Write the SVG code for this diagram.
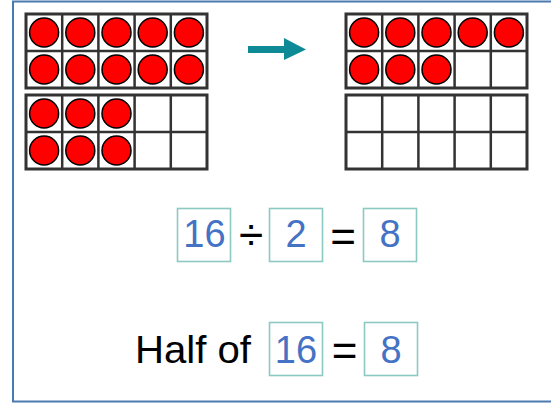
<svg xmlns="http://www.w3.org/2000/svg" width="551" height="404" viewBox="0 0 551 404">
<style>
.frame{fill:#fff;stroke:#333;stroke-width:3}
.grid{stroke:#333;stroke-width:2.5;fill:none}
.c{fill:#f00;stroke:#000;stroke-width:1.5}
.box{fill:#fff;stroke:#8cc9c2;stroke-width:1.6}
.num{font-family:"Liberation Sans",Arial,sans-serif;font-size:38px;fill:#4472c4;text-anchor:middle}
.op{font-family:"Liberation Sans",Arial,sans-serif;font-size:44px;fill:#000;text-anchor:middle}
</style>
<defs>
<g id="tf">
<rect class="frame" x="0" y="0" width="181" height="74"/>
<path class="grid" d="M36.2 0V74M72.4 0V74M108.6 0V74M144.8 0V74M0 37H181"/>
</g>
<circle id="dot" class="c" r="14.5"/>
</defs>
<rect x="13" y="1.5" width="545" height="400" fill="#fff" stroke="#4a7ab0" stroke-width="2"/>
<g id="frame-left-top">
<use href="#tf" x="26" y="14"/>
<use href="#dot" x="44.1" y="32.5"/><use href="#dot" x="80.3" y="32.5"/><use href="#dot" x="116.5" y="32.5"/><use href="#dot" x="152.7" y="32.5"/><use href="#dot" x="188.9" y="32.5"/>
<use href="#dot" x="44.1" y="69.5"/><use href="#dot" x="80.3" y="69.5"/><use href="#dot" x="116.5" y="69.5"/><use href="#dot" x="152.7" y="69.5"/><use href="#dot" x="188.9" y="69.5"/>
</g>
<g id="frame-left-bottom">
<use href="#tf" x="26" y="95"/>
<use href="#dot" x="44.1" y="113.5"/><use href="#dot" x="80.3" y="113.5"/><use href="#dot" x="116.5" y="113.5"/>
<use href="#dot" x="44.1" y="150.5"/><use href="#dot" x="80.3" y="150.5"/><use href="#dot" x="116.5" y="150.5"/>
</g>
<g id="frame-right-top">
<use href="#tf" x="346" y="14"/>
<use href="#dot" x="364.1" y="32.5"/><use href="#dot" x="400.3" y="32.5"/><use href="#dot" x="436.5" y="32.5"/><use href="#dot" x="472.7" y="32.5"/><use href="#dot" x="508.9" y="32.5"/>
<use href="#dot" x="364.1" y="69.5"/><use href="#dot" x="400.3" y="69.5"/><use href="#dot" x="436.5" y="69.5"/>
</g>
<g id="frame-right-bottom">
<use href="#tf" x="346" y="95"/>
</g>
<g id="connectors">
<polygon points="248,46 284,46 284,38 306,49.5 284,60 284,53 248,53" fill="#0e8a96"/>
</g>
<g id="equation-division">
<rect class="box" x="177.5" y="208.5" width="53" height="53"/>
<text class="num" x="204.5" y="247">16</text>
<text class="op" x="251" y="250">÷</text>
<rect class="box" x="269.5" y="208.5" width="53" height="53"/>
<text class="num" x="296" y="247">2</text>
<text class="op" x="343" y="252">=</text>
<rect class="box" x="363.5" y="208.5" width="53" height="53"/>
<text class="num" x="390" y="247">8</text>
</g>
<g id="equation-half">
<text x="135" y="363" font-family="Liberation Sans,Arial,sans-serif" font-size="38" fill="#000" textLength="116" lengthAdjust="spacingAndGlyphs">Half of</text>
<rect class="box" x="269.5" y="322.5" width="53" height="53"/>
<text class="num" x="296" y="363">16</text>
<text class="op" x="344.5" y="366">=</text>
<rect class="box" x="364.5" y="322.5" width="53" height="53"/>
<text class="num" x="391" y="363">8</text>
</g>
</svg>
